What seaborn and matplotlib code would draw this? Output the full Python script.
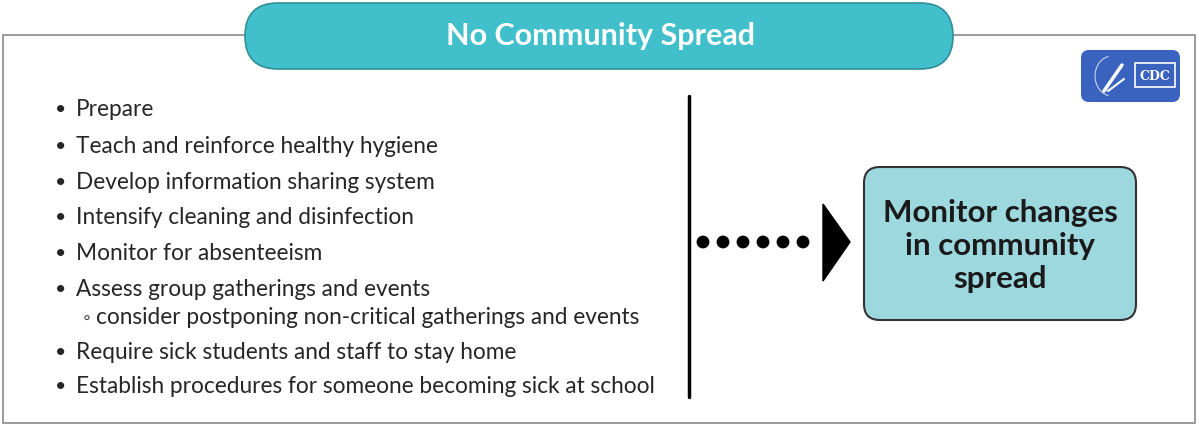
import numpy as np
import pandas as pd
import matplotlib
matplotlib.use("Agg")
from matplotlib import pyplot as plt
from matplotlib.patches import FancyBboxPatch, Polygon, Rectangle, Arc
import seaborn as sns

# content of the diagram
title = "No Community Spread"
bullets = [
    "Prepare",
    "Teach and reinforce healthy hygiene",
    "Develop information sharing system",
    "Intensify cleaning and disinfection",
    "Monitor for absenteeism",
    "Assess group gatherings and events",
    "consider postponing non-critical gatherings and events",
    "Require sick students and staff to stay home",
    "Establish procedures for someone becoming sick at school",
]
levels = [0, 0, 0, 0, 0, 0, 1, 0, 0]
bullet_y = [110, 147, 183, 218, 254, 290, 318, 353, 387]
dot_x = [703, 723, 743, 763, 783, 803]
box_text = "Monitor changes\nin community\nspread"

sns.set_theme(style="white")
plt.rcParams['font.family'] = ['Lato', 'DejaVu Sans']

fig = plt.figure(figsize=(11.99, 4.27), dpi=100)
ax = fig.add_axes([0, 0, 1, 1])
ax.set_xlim(0, 1199)
ax.set_ylim(427, 0)
ax.axis("off")

# outer frame
ax.add_patch(Rectangle((3, 36), 1192, 388, fill=False, edgecolor="#8a8a8a", lw=1.2))

# title banner
ax.add_patch(FancyBboxPatch((245, 4), 708, 66, boxstyle="round,pad=0,rounding_size=33",
                            facecolor="#41bfca", edgecolor="#2f8f99", lw=1.2, zorder=3))
ax.text(600, 36, title, ha="center", va="center", color="white", fontsize=22,
        fontweight="bold", zorder=4)

# CDC logo
ax.add_patch(FancyBboxPatch((1081, 51), 99, 52, boxstyle="round,pad=0,rounding_size=8",
                            facecolor="#3a62bf", edgecolor="none", zorder=3))
ax.add_patch(Arc((1112, 77), 34, 40, theta1=100, theta2=260, color="#c9d3f0", lw=0.8, zorder=4))
ax.plot([1104, 1122], [92, 66], color="white", lw=2.5, zorder=4)
ax.plot([1108, 1124], [92, 80], color="white", lw=1.5, zorder=4)
ax.add_patch(Rectangle((1135, 64), 40, 24, fill=False, edgecolor="white", lw=1.2, zorder=4))
ax.text(1155, 76.5, "CDC", ha="center", va="center", color="white", fontsize=9,
        fontweight="bold", family="DejaVu Serif", zorder=5)

# bullet list
df = pd.DataFrame({"text": bullets, "level": levels, "y": bullet_y})
for _, row in df.iterrows():
    if row["level"] == 0:
        ax.text(61, row["y"], "\u2022", ha="center", va="center", fontsize=14, color="#262626")
        ax.text(76, row["y"], row["text"], ha="left", va="center", fontsize=16.3, color="#262626")
    else:
        ax.text(87, row["y"], "\u25e6", ha="center", va="center", fontsize=14, color="#444444")
        ax.text(96, row["y"], row["text"], ha="left", va="center", fontsize=16.3, color="#262626")

# divider
ax.plot([689, 689], [97, 398], color="black", lw=2.5)

# dotted arrow
dots = pd.DataFrame({"x": dot_x, "y": [243] * len(dot_x)})
sns.scatterplot(data=dots, x="x", y="y", ax=ax, s=85, color="black", edgecolor="none", legend=False)
ax.add_patch(Polygon([(823, 205), (850, 243), (823, 282)], closed=True, facecolor="black",
                     edgecolor="black"))

# outcome box
ax.add_patch(FancyBboxPatch((864, 168), 272, 153, boxstyle="round,pad=0,rounding_size=16",
                            facecolor="#9dd8df", edgecolor="#333333", lw=1.5))
ax.text(1000, 246, box_text, ha="center", va="center", fontsize=22.5, fontweight="bold",
        color="#1a1a1a", linespacing=1.22)

fig.savefig("out.png", dpi=100)
